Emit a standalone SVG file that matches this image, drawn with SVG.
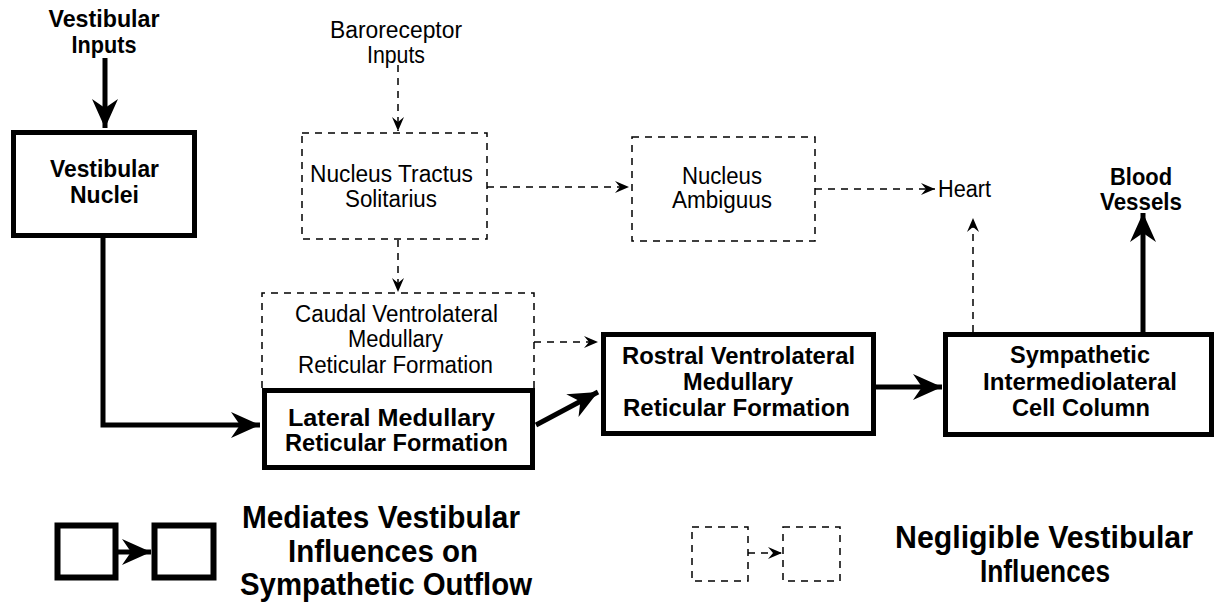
<svg xmlns="http://www.w3.org/2000/svg" width="1216" height="604" viewBox="0 0 1216 604">
<style>
.bg{fill:#fff}
.solid{fill:#fff;stroke:#000;stroke-width:5}
.dash{fill:none;stroke:#000;stroke-width:1.5;stroke-dasharray:7 6}
.thick{fill:none;stroke:#000;stroke-width:5}
.thin{fill:none;stroke:#000;stroke-width:1.5;stroke-dasharray:7 6}
text{font-family:"Liberation Sans",Arial,sans-serif;fill:#000;text-anchor:middle}
.r{font-size:23px}
.b{font-size:24px;font-weight:bold}
.lg{font-size:32px;font-weight:bold}
</style>
<defs>
<marker id="big" markerUnits="userSpaceOnUse" viewBox="-32 -15 34 30" refX="0" refY="0" markerWidth="34" markerHeight="30" orient="auto">
<path d="M0,0 L-29,-13 L-20,0 L-29,13 Z" fill="#000"/>
</marker>
<marker id="small" markerUnits="userSpaceOnUse" viewBox="-16 -8 18 16" refX="0" refY="0" markerWidth="18" markerHeight="16" orient="auto">
<path d="M0,0 L-14,-6 L-9,0 L-14,6 Z" fill="#000"/>
</marker>
</defs>
<rect class="bg" x="0" y="0" width="1216" height="604"/>

<g id="connectors">
<path class="thick" d="M105,58 L105,128" marker-end="url(#big)"/>
<path class="thick" d="M103,238 L103,425 L260,425" marker-end="url(#big)"/>
<path class="thick" d="M536,425 L598,392" marker-end="url(#big)"/>
<path class="thick" d="M876,387 L942,387" marker-end="url(#big)"/>
<path class="thick" d="M1143,332 L1143,213" marker-end="url(#big)"/>
<path class="thin" d="M398,65 L398,131" marker-end="url(#small)"/>
<path class="thin" d="M398,240 L398,292" marker-end="url(#small)"/>
<path class="thin" d="M487,187 L629,187" marker-end="url(#small)"/>
<path class="thin" d="M815,189 L935,189" marker-end="url(#small)"/>
<path class="thin" d="M973,332 L973,218" marker-end="url(#small)"/>
<path class="thin" d="M534,342 L598,342" marker-end="url(#small)"/>
</g>

<g id="vestibular-inputs">
<text class="b" x="104" y="27" textLength="111" lengthAdjust="spacingAndGlyphs">Vestibular</text>
<text class="b" x="104" y="53" textLength="65" lengthAdjust="spacingAndGlyphs">Inputs</text>
</g>

<g id="baroreceptor-inputs">
<text class="r" x="396" y="38" textLength="132" lengthAdjust="spacingAndGlyphs">Baroreceptor</text>
<text class="r" x="396" y="63" textLength="58" lengthAdjust="spacingAndGlyphs">Inputs</text>
</g>

<g id="vestibular-nuclei">
<rect class="solid" x="13.5" y="132.5" width="181" height="103"/>
<text class="b" x="104.5" y="177" textLength="109" lengthAdjust="spacingAndGlyphs">Vestibular</text>
<text class="b" x="104.5" y="203" textLength="69" lengthAdjust="spacingAndGlyphs">Nuclei</text>
</g>

<g id="nts">
<rect class="dash" x="302" y="133" width="185" height="106"/>
<text class="r" x="391.5" y="182" textLength="163" lengthAdjust="spacingAndGlyphs">Nucleus Tractus</text>
<text class="r" x="391" y="207" textLength="92" lengthAdjust="spacingAndGlyphs">Solitarius</text>
</g>

<g id="nucleus-ambiguus">
<rect class="dash" x="632" y="137" width="183" height="104"/>
<text class="r" x="722" y="184" textLength="80" lengthAdjust="spacingAndGlyphs">Nucleus</text>
<text class="r" x="722" y="208" textLength="100" lengthAdjust="spacingAndGlyphs">Ambiguus</text>
</g>

<g id="heart">
<text class="r" x="938" y="197" style="text-anchor:start" textLength="53" lengthAdjust="spacingAndGlyphs">Heart</text>
</g>

<g id="blood-vessels">
<text class="b" x="1141" y="185" textLength="62" lengthAdjust="spacingAndGlyphs">Blood</text>
<text class="b" x="1141" y="210" textLength="82" lengthAdjust="spacingAndGlyphs">Vessels</text>
</g>

<g id="cvlm">
<path class="dash" d="M262,388 L262,293 L534,293 L534,388"/>
<text class="r" x="396.5" y="322" textLength="203" lengthAdjust="spacingAndGlyphs">Caudal Ventrolateral</text>
<text class="r" x="395.5" y="347" textLength="95" lengthAdjust="spacingAndGlyphs">Medullary</text>
<text class="r" x="395.5" y="373" textLength="195" lengthAdjust="spacingAndGlyphs">Reticular Formation</text>
</g>

<g id="lmrf">
<rect class="solid" x="264.5" y="390.5" width="268" height="77"/>
<text class="b" x="391.5" y="426" textLength="207" lengthAdjust="spacingAndGlyphs">Lateral Medullary</text>
<text class="b" x="396.5" y="451" textLength="223" lengthAdjust="spacingAndGlyphs">Reticular Formation</text>
</g>

<g id="rvlm">
<rect class="solid" x="603.5" y="334.5" width="270" height="99"/>
<text class="b" x="738.5" y="364" textLength="233" lengthAdjust="spacingAndGlyphs">Rostral Ventrolateral</text>
<text class="b" x="738" y="390" textLength="110" lengthAdjust="spacingAndGlyphs">Medullary</text>
<text class="b" x="736.5" y="416" textLength="227" lengthAdjust="spacingAndGlyphs">Reticular Formation</text>
</g>

<g id="sympathetic-iml">
<rect class="solid" x="945.5" y="334.5" width="266" height="100"/>
<text class="b" x="1080" y="363" textLength="140" lengthAdjust="spacingAndGlyphs">Sympathetic</text>
<text class="b" x="1080" y="390" textLength="194" lengthAdjust="spacingAndGlyphs">Intermediolateral</text>
<text class="b" x="1081" y="416" textLength="138" lengthAdjust="spacingAndGlyphs">Cell Column</text>
</g>

<g id="legend-solid">
<rect class="solid" x="57.5" y="525.5" width="58" height="52" style="stroke-width:6"/>
<rect class="solid" x="154.5" y="525.5" width="59" height="52" style="stroke-width:6"/>
<path class="thick" d="M118,552 L151,552" marker-end="url(#big)"/>
<text class="lg" x="381" y="528" textLength="278" lengthAdjust="spacingAndGlyphs">Mediates Vestibular</text>
<text class="lg" x="383" y="562" textLength="190" lengthAdjust="spacingAndGlyphs">Influences on</text>
<text class="lg" x="386" y="595" textLength="292" lengthAdjust="spacingAndGlyphs">Sympathetic Outflow</text>
</g>

<g id="legend-dashed">
<rect class="dash" x="692" y="527" width="56" height="54"/>
<rect class="dash" x="783" y="527" width="57" height="54"/>
<path class="thin" d="M748,553 L782,553" marker-end="url(#small)"/>
<text class="lg" x="1044" y="548" textLength="298" lengthAdjust="spacingAndGlyphs">Negligible Vestibular</text>
<text class="lg" x="1045" y="582" textLength="130" lengthAdjust="spacingAndGlyphs">Influences</text>
</g>
</svg>
